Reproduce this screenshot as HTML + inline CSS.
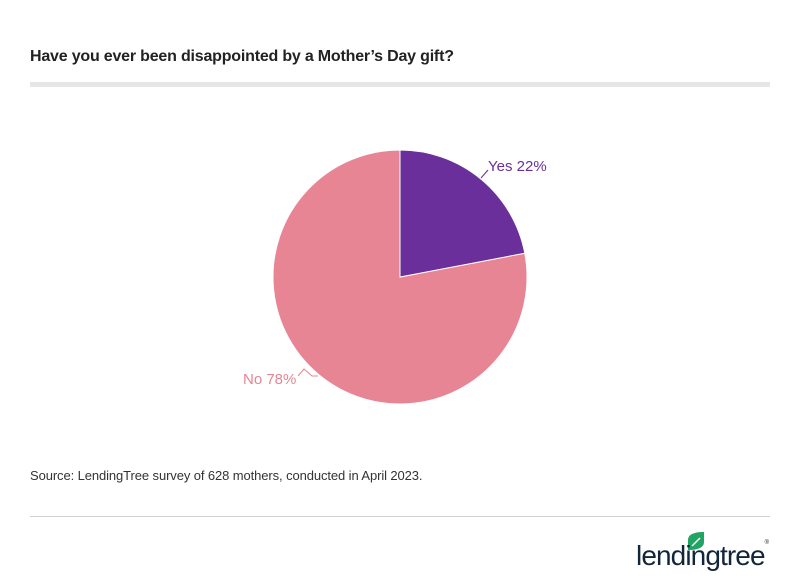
<!DOCTYPE html>
<html><head><meta charset="utf-8"><style>
body{margin:0;width:800px;height:588px;background:#fff;font-family:"Liberation Sans",sans-serif;overflow:hidden;position:relative}
.t{position:absolute;left:30px;top:48px;font-size:16px;font-weight:bold;color:#222;letter-spacing:-0.2px}
.bar{position:absolute;left:30px;top:82px;width:740px;height:5px;background:#e6e6e6}
.src{position:absolute;left:30px;top:468px;font-size:13px;color:#333;letter-spacing:-0.1px}
.hr{position:absolute;left:30px;top:516px;width:740px;height:1px;background:#d0d0d0}
.logo{position:absolute;left:636px;top:540px;font-size:28px;color:#12253a;letter-spacing:-0.9px}
</style></head><body>
<div class="t">Have you ever been disappointed by a Mother’s Day gift?</div>
<div class="bar"></div>
<svg width="800" height="588" style="position:absolute;left:0;top:0">
<path d="M400,277 L524.75,253.2 A127,127 0 1 1 400,150 Z" fill="#e88594" stroke="#fff" stroke-width="1"/>
<path d="M400,277 L400,150 A127,127 0 0 1 524.75,253.2 Z" fill="#6a2f9b" stroke="#fff" stroke-width="1"/>
<path d="M481,178 L488,170" stroke="#6a2f9b" fill="none"/>
<path d="M298,376 L304,369 L312,376 L318,376" stroke="#e88594" fill="none"/>
<text x="488" y="171" font-size="15" fill="#6a2f9b" font-family="Liberation Sans">Yes 22%</text>
<text x="243" y="384" font-size="15" fill="#e88594" font-family="Liberation Sans">No 78%</text>
<path d="M688,550 L688,540 C688,535 693,532 704,532 L704,542 C704,547 699,550 688,550 Z" fill="#1fa463"/>
<path d="M692,546 L700,538" stroke="#fff" stroke-width="1.5"/>
</svg>
<div class="src">Source: LendingTree survey of 628 mothers, conducted in April 2023.</div>
<div class="hr"></div>
<div class="logo">lendingtree<span style="font-size:6px;vertical-align:top">®</span></div>
</body></html>
